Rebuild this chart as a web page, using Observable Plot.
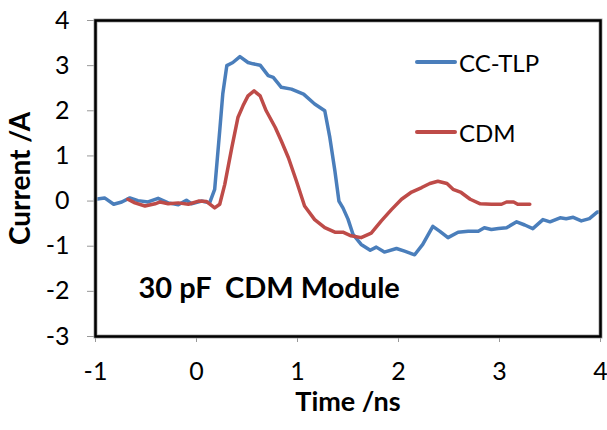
<!DOCTYPE html>
<html>
<head>
<meta charset="utf-8">
<script src="https://cdn.jsdelivr.net/npm/d3@7"></script>
<script src="https://cdn.jsdelivr.net/npm/@observablehq/plot@0.6"></script>
<style>
  html, body { margin: 0; padding: 0; background: #fff; }
  #wrap { position: relative; width: 607px; height: 430px; font-family: Lato, "Open Sans", sans-serif; }
  .lg { position: absolute; display: flex; align-items: center; font-size: 24px; color: #000; }
  .lg span.sw { display: inline-block; width: 42px; height: 4px; margin-right: 2px; border-radius: 2px; }
  svg text { white-space: pre; }
</style>
</head>
<body>
<div id="wrap"></div>
<script>
// ---- data ----
const seriesNames = ["CC-TLP", "CDM"];
const seriesColors = ["#4a7ebb", "#be4b48"];

const tlpTime = [-1.00,-0.91,-0.82,-0.74,-0.66,-0.58,-0.48,-0.38,-0.28,-0.18,-0.10,-0.05,0.05,0.13,0.18,0.23,0.26,0.30,0.36,0.43,0.51,0.56,0.63,0.71,0.76,0.84,0.94,1.06,1.17,1.27,1.32,1.37,1.41,1.45,1.50,1.55,1.63,1.72,1.78,1.86,1.98,2.06,2.16,2.24,2.34,2.41,2.49,2.59,2.69,2.79,2.85,2.92,2.99,3.07,3.17,3.25,3.33,3.43,3.50,3.60,3.66,3.73,3.81,3.89,3.97,4.00];
const tlpCurrent = [0.04,0.07,-0.07,-0.02,0.07,0.01,-0.02,0.06,-0.04,-0.08,0.02,-0.06,0.00,-0.04,0.26,1.56,2.37,3.00,3.07,3.20,3.07,3.04,3.01,2.78,2.74,2.52,2.48,2.37,2.15,2.00,1.41,0.67,0.00,-0.15,-0.40,-0.74,-0.96,-1.09,-1.02,-1.13,-1.05,-1.11,-1.19,-0.96,-0.56,-0.67,-0.81,-0.69,-0.67,-0.67,-0.59,-0.63,-0.61,-0.59,-0.46,-0.53,-0.61,-0.41,-0.46,-0.37,-0.39,-0.36,-0.44,-0.39,-0.24,-0.24];

const cdmTime = [-0.68,-0.61,-0.51,-0.41,-0.36,-0.28,-0.18,-0.08,0.02,0.10,0.18,0.23,0.28,0.35,0.41,0.46,0.51,0.57,0.63,0.69,0.78,0.84,0.91,0.99,1.07,1.17,1.27,1.37,1.45,1.53,1.63,1.73,1.83,1.93,2.03,2.13,2.23,2.31,2.39,2.48,2.54,2.62,2.71,2.81,2.92,3.02,3.07,3.14,3.18,3.30];
const cdmCurrent = [0.04,-0.04,-0.11,-0.06,-0.02,-0.06,-0.04,-0.07,0.00,-0.01,-0.15,-0.07,0.37,1.19,1.85,2.11,2.33,2.44,2.33,2.00,1.63,1.33,0.96,0.44,-0.11,-0.41,-0.59,-0.69,-0.69,-0.77,-0.81,-0.71,-0.44,-0.19,0.04,0.20,0.30,0.39,0.44,0.39,0.26,0.19,0.04,-0.06,-0.07,-0.07,-0.02,-0.02,-0.07,-0.07];

const xTicks = [-1, 0, 1, 2, 3, 4];
const yTicks = [-3, -2, -1, 0, 1, 2, 3, 4];
const xLabel = "Time /ns";
const yLabel = "Current /A";
const note = "30 pF  CDM Module";

// ---- tables ----
const rows = [
  ...tlpTime.map((t, i) => ({t, c: tlpCurrent[i], s: seriesNames[0]})),
  ...cdmTime.map((t, i) => ({t, c: cdmCurrent[i], s: seriesNames[1]}))
];

const chart = Plot.plot({
  width: 607,
  height: 430,
  marginLeft: 95,
  marginRight: 7,
  marginTop: 20,
  marginBottom: 94,
  style: {fontFamily: "Lato, 'Open Sans', sans-serif", background: "white", color: "black"},
  x: {domain: [-1, 4]},
  y: {domain: [-3, 4]},
  color: {domain: seriesNames, range: seriesColors},
  marks: [
    Plot.axisX({ticks: xTicks, tickSize: 6, tickPadding: 20, fontSize: 25, stroke: "#999", label: null, tickFormat: d => String(d)}),
    Plot.axisY({ticks: yTicks, tickSize: 8, tickPadding: 18, fontSize: 25, stroke: "#999", label: null, tickFormat: d => String(d)}),
    Plot.line(rows, {x: "t", y: "c", z: "s", stroke: "s", strokeWidth: 3.5, strokeLinejoin: "round", strokeLinecap: "round"}),
    Plot.frame({stroke: "#aaa", strokeWidth: 4}),
    Plot.frame({stroke: "black", strokeWidth: 2.5}),
    Plot.text([note], {text: d => d, frameAnchor: "top-left", dx: 43, dy: 268, textAnchor: "start", lineAnchor: "middle", fontSize: 29, fontWeight: "bold"}),
    Plot.text([xLabel], {text: d => d, frameAnchor: "bottom", dy: 66, textAnchor: "middle", lineAnchor: "middle", fontSize: 27, fontWeight: "bold"}),
    Plot.text([yLabel], {text: d => d, frameAnchor: "left", dx: -74, dy: 0, rotate: -90, textAnchor: "middle", lineAnchor: "middle", fontSize: 28, fontWeight: "bold"})
  ]
});

const wrap = document.getElementById("wrap");
wrap.appendChild(chart);

// legend overlay
const legendTops = [62, 132];
seriesNames.forEach((name, i) => {
  const d = document.createElement("div");
  d.className = "lg";
  d.style.left = "415px";
  d.style.top = (legendTops[i] - 15) + "px";
  d.style.height = "30px";
  d.innerHTML = `<span class="sw" style="background:${seriesColors[i]}"></span><span>${name}</span>`;
  wrap.appendChild(d);
});
</script>
</body>
</html>
